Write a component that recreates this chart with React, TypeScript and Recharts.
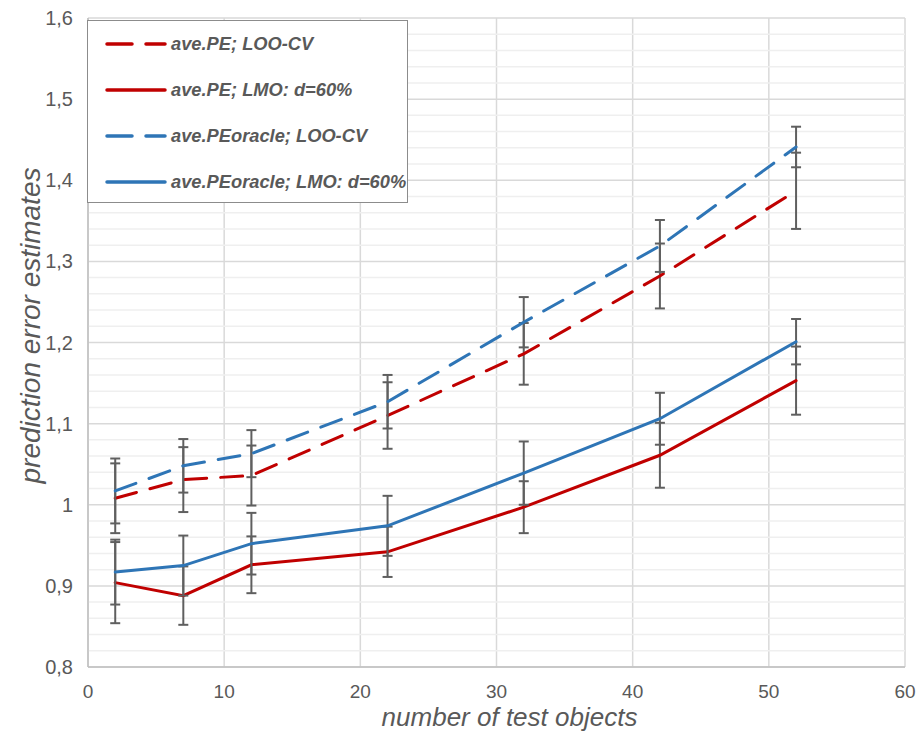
import { LineChart, Line, XAxis, YAxis, CartesianGrid, ErrorBar, ReferenceLine, Label } from 'recharts'

const testObjects = [2, 7, 12, 22, 32, 42, 52]

const peLoo = [1.008, 1.031, 1.036, 1.11, 1.186, 1.282, 1.387]
const peLooErr = [0.043, 0.04, 0.037, 0.041, 0.038, 0.04, 0.047]
const peLmo = [0.904, 0.888, 0.926, 0.942, 0.997, 1.061, 1.153]
const peLmoErr = [0.05, 0.036, 0.035, 0.031, 0.032, 0.04, 0.042]
const oracleLoo = [1.017, 1.048, 1.063, 1.127, 1.225, 1.319, 1.441]
const oracleLooErr = [0.04, 0.033, 0.029, 0.033, 0.031, 0.032, 0.025]
const oracleLmo = [0.917, 0.925, 0.952, 0.974, 1.039, 1.106, 1.201]
const oracleLmoErr = [0.04, 0.037, 0.038, 0.037, 0.039, 0.032, 0.028]

const xTicks = [0, 10, 20, 30, 40, 50, 60]
const yTicks = [0.8, 0.9, 1, 1.1, 1.2, 1.3, 1.4, 1.5, 1.6]
const yMinorTicks = [
  0.82, 0.84, 0.86, 0.88, 0.92, 0.94, 0.96, 0.98, 1.02, 1.04, 1.06, 1.08,
  1.12, 1.14, 1.16, 1.18, 1.22, 1.24, 1.26, 1.28, 1.32, 1.34, 1.36, 1.38,
  1.42, 1.44, 1.46, 1.48, 1.52, 1.54, 1.56, 1.58,
]

const RED = '#C00000'
const BLUE = '#2E75B6'
const GREY_TEXT = '#595959'
const DASH = '22 14'
const FONT = '"Liberation Sans", Arial, Helvetica, sans-serif'

const series = [
  { key: 'peLoo', name: 'ave.PE; LOO-CV', color: RED, dashed: true },
  { key: 'peLmo', name: 'ave.PE; LMO: d=60%', color: RED, dashed: false },
  { key: 'oracleLoo', name: 'ave.PEoracle; LOO-CV', color: BLUE, dashed: true },
  { key: 'oracleLmo', name: 'ave.PEoracle; LMO: d=60%', color: BLUE, dashed: false },
]

const data = testObjects.map((x, i) => ({
  x,
  peLoo: peLoo[i],
  peLooErr: peLooErr[i],
  peLmo: peLmo[i],
  peLmoErr: peLmoErr[i],
  oracleLoo: oracleLoo[i],
  oracleLooErr: oracleLooErr[i],
  oracleLmo: oracleLmo[i],
  oracleLmoErr: oracleLmoErr[i],
}))

const fmt = (v: number) => String(v).replace('.', ',')

const YTitle = (props: any) => {
  const { viewBox } = props
  const cx = viewBox.x + 30
  const cy = viewBox.y + viewBox.height / 2 - 17
  return (
    <text
      x={cx}
      y={cy}
      transform={`rotate(-90, ${cx}, ${cy})`}
      textAnchor="middle"
      dominantBaseline="central"
      fontFamily={FONT}
      fontStyle="italic"
      fontSize={28}
      fill={GREY_TEXT}
    >
      prediction error estimates
    </text>
  )
}

const XTitle = (props: any) => {
  const { viewBox } = props
  return (
    <text
      x={viewBox.x + viewBox.width / 2 + 13}
      y={viewBox.y + 59}
      textAnchor="middle"
      fontFamily={FONT}
      fontStyle="italic"
      fontSize={26}
      fill={GREY_TEXT}
    >
      number of test objects
    </text>
  )
}

function LegendBox() {
  return (
    <div
      style={{
        position: 'absolute',
        left: 87,
        top: 20,
        width: 321,
        height: 183,
        border: '1.5px solid #8c8c8c',
        background: '#fff',
        boxSizing: 'border-box',
      }}
    >
      {series.map((s, i) => (
        <div
          key={s.key}
          style={{
            position: 'absolute',
            left: 17,
            top: 23 + i * 46 - 12,
            height: 24,
            display: 'flex',
            alignItems: 'center',
            whiteSpace: 'nowrap',
          }}
        >
          <svg width={62} height={10}>
            <line
              x1={2}
              y1={5}
              x2={60}
              y2={5}
              stroke={s.color}
              strokeWidth={3.5}
              strokeLinecap="round"
              strokeDasharray={s.dashed ? '25 14' : undefined}
            />
          </svg>
          <span
            style={{
              marginLeft: 4,
              fontFamily: FONT,
              fontWeight: 'bold',
              fontStyle: 'italic',
              fontSize: 18.3,
              color: GREY_TEXT,
            }}
          >
            {s.name}
          </span>
        </div>
      ))}
    </div>
  )
}

export default function App() {
  return (
    <div style={{ position: 'absolute', left: 0, top: 0, width: 919, height: 731, background: '#fff' }}>
      <LineChart width={919} height={731} data={data} margin={{ top: 18, right: 14, left: 0, bottom: 0 }}>
        <CartesianGrid stroke="#d9d9d9" strokeWidth={1.5} />
        {yMinorTicks.map((v) => (
          <ReferenceLine key={v} y={v} stroke="#efefef" strokeWidth={1.5} />
        ))}
        <XAxis
          dataKey="x"
          type="number"
          domain={[0, 60]}
          ticks={xTicks}
          height={64}
          tickLine={false}
          tickMargin={12}
          axisLine={{ stroke: '#bfbfbf', strokeWidth: 1.5 }}
          tick={{ fill: GREY_TEXT, fontSize: 19, fontFamily: FONT }}
          interval={0}
        >
          <Label content={XTitle} />
        </XAxis>
        <YAxis
          type="number"
          domain={[0.8, 1.6]}
          ticks={yTicks}
          width={88}
          tickLine={false}
          tickMargin={9}
          axisLine={{ stroke: '#bfbfbf', strokeWidth: 1.5 }}
          tick={{ fill: GREY_TEXT, fontSize: 20, fontFamily: FONT }}
          tickFormatter={fmt}
          interval={0}
        >
          <Label content={YTitle} />
        </YAxis>
        {series.map((s) => (
          <Line
            key={s.key}
            type="linear"
            dataKey={s.key}
            name={s.name}
            stroke={s.color}
            strokeWidth={3}
            strokeDasharray={s.dashed ? DASH : undefined}
            strokeLinecap="round"
            dot={false}
            activeDot={false}
            isAnimationActive={false}
          >
            <ErrorBar dataKey={`${s.key}Err`} direction="y" width={5} stroke="#5f5f5f" strokeWidth={2} />
          </Line>
        ))}
      </LineChart>
      <LegendBox />
    </div>
  )
}
